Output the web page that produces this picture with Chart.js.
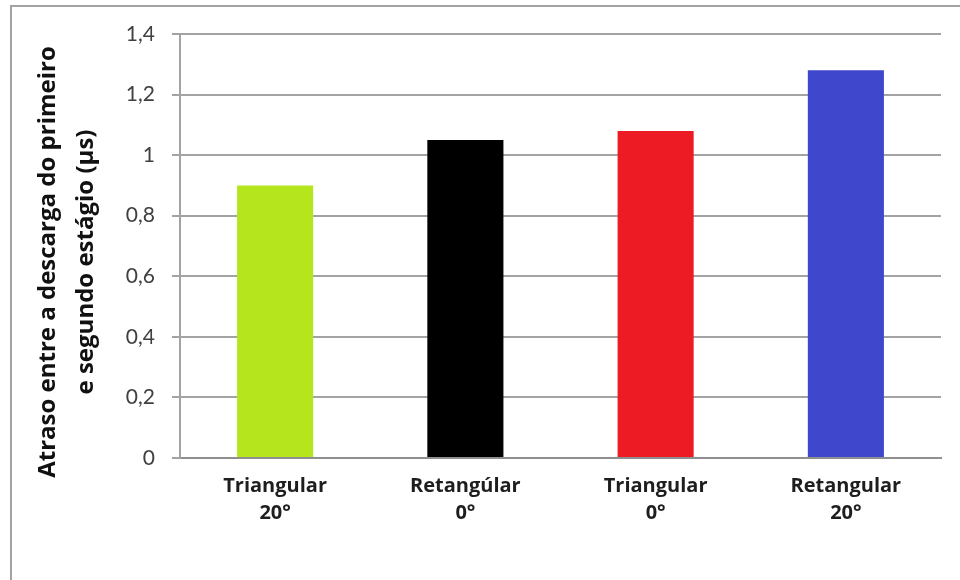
<!DOCTYPE html>
<html lang="pt">
<head>
<meta charset="utf-8">
<title>Atraso entre descargas</title>
<script src="https://cdn.jsdelivr.net/npm/chart.js@4/dist/chart.umd.min.js"></script>
<style>
    html, body {
        margin: 0;
        padding: 0;
        background: #ffffff;
    }
    .frame {
        position: absolute;
        left: 10px;
        top: 5px;
        width: 960px;
        height: 600px;
        border-left: 2px solid #a3a3a3;
        border-top: 2px solid #a3a3a3;
    }
    .chart-box {
        position: absolute;
        left: 0;
        top: 0;
        width: 960px;
        height: 580px;
    }
</style>
</head>
<body>
<div class="frame"></div>
<div class="chart-box"><canvas id="delayChart"></canvas></div>
<script>
    // Forma de onda / ângulo de cada ensaio
    const categories = [
        ['Triangular', '20°'],
        ['Retangúlar', '0°'],
        ['Triangular', '0°'],
        ['Retangular', '20°']
    ];
    // Atraso medido em µs
    const delays = [0.9, 1.05, 1.08, 1.28];
    const barColors = ['#b5e61d', '#000000', '#ed1c24', '#3f48cc'];

    const yMin = 0;
    const yMax = 1.4;
    const yStep = 0.2;

    const axisTitle = ['Atraso entre a descarga do primeiro', 'e segundo estágio (µs)'];

    const LABEL_FONT = '"Open Sans", Lato, sans-serif';
    const TICK_FONT = 'Lato, "DejaVu Sans", sans-serif';

    // Rotated two-line title for the value axis
    const axisTitlePlugin = {
        id: 'axisTitle',
        afterDraw(chart) {
            const ctx = chart.ctx;
            const centerY = 262;
            const lineX = [48, 86];
            ctx.save();
            ctx.fillStyle = '#111111';
            ctx.font = 'bold 24px ' + LABEL_FONT;
            ctx.textAlign = 'center';
            ctx.textBaseline = 'middle';
            axisTitle.forEach((line, i) => {
                ctx.save();
                ctx.translate(lineX[i], centerY);
                ctx.rotate(-Math.PI / 2);
                ctx.fillText(line, 0, 0);
                ctx.restore();
            });
            ctx.restore();
        }
    };

    function formatTick(value) {
        return String(Number(value.toFixed(1))).replace('.', ',');
    }

    new Chart(document.getElementById('delayChart'), {
        type: 'bar',
        data: {
            labels: categories,
            datasets: [{
                data: delays,
                backgroundColor: barColors,
                borderWidth: 0,
                categoryPercentage: 1,
                barPercentage: 0.4
            }]
        },
        options: {
            responsive: true,
            maintainAspectRatio: false,
            animation: false,
            layout: {
                padding: { left: 0, top: 34, right: 19, bottom: 0 }
            },
            plugins: {
                legend: { display: false },
                tooltip: { enabled: false }
            },
            scales: {
                x: {
                    grid: {
                        display: false,
                        drawTicks: false
                    },
                    border: {
                        color: '#8f8f8f',
                        width: 2
                    },
                    ticks: {
                        color: '#1e1e1e',
                        padding: 15,
                        maxRotation: 0,
                        font: { family: LABEL_FONT, size: 20, weight: 'bold', lineHeight: 1.35 }
                    },
                    afterFit(scale) {
                        scale.height = 122;
                    }
                },
                y: {
                    min: yMin,
                    max: yMax,
                    grid: {
                        color: '#a3a3a3',
                        lineWidth: 2,
                        tickLength: 8
                    },
                    border: {
                        color: '#a3a3a3',
                        width: 2
                    },
                    ticks: {
                        stepSize: yStep,
                        color: '#404040',
                        padding: 17,
                        font: { family: TICK_FONT, size: 21 },
                        callback: formatTick
                    },
                    afterFit(scale) {
                        scale.width = 180;
                    }
                }
            }
        },
        plugins: [axisTitlePlugin]
    });
</script>
</body>
</html>
